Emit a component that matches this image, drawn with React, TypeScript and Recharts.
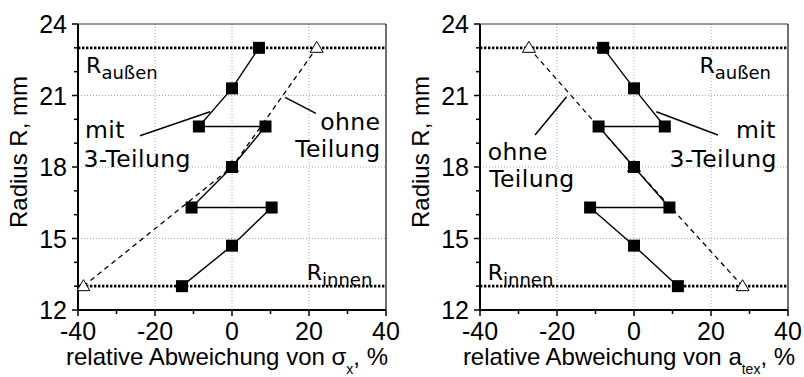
import React from 'react';
import { ScatterChart, Scatter, XAxis, YAxis, ReferenceLine, ReferenceDot } from 'recharts';

const xTicks = [-40, -30, -20, -10, 0, 10, 20, 30, 40];
const yTicks = [12, 13, 14, 15, 16, 17, 18, 19, 20, 21, 22, 23, 24];
const gridX = [-20, 0, 20];
const gridY = [15, 18, 21];
const boundaryRadii = [13, 23];

// radius of each measuring point, mm
const mitRadius = [23, 21.3, 19.7, 19.7, 18, 16.3, 16.3, 14.7, 13];
const ohneRadius = [13, 18, 23];

// left panel: deviation of sigma_x, %
const sigmaMit = [7, 0, -8.6, 8.7, 0, -10.5, 10.3, 0, -13];
const sigmaOhne = [-38.6, 0, 22];

// right panel: deviation of a_tex, %
const atexMit = [-8, 0, 8, -9.2, 0, 9.2, -11.4, 0, 11.4];
const atexOhne = [28.2, 0, -27.3];

const SANS = '"Liberation Sans", Arial, sans-serif';
const NOTE = '"DejaVu Sans", Verdana, sans-serif';

const toPoints = (xs: number[], ys: number[]) => xs.map((x, i) => ({ x, y: ys[i] }));

const Square = (p: any) => (
    <rect x={p.cx - 6} y={p.cy - 6} width={12} height={12} fill="#000" />
);

const Triangle = (p: any) => (
    <path
        d={`M${p.cx},${p.cy - 6.5} L${p.cx + 6.5},${p.cy + 4.5} L${p.cx - 6.5},${p.cy + 4.5} Z`}
        fill="#fff"
        stroke="#000"
        strokeWidth={1}
    />
);

const renderXTick = (p: any) => {
    const v = p.payload.value;
    const major = v % 20 === 0;
    return (
        <g>
            <line x1={p.x} x2={p.x} y1={p.y} y2={p.y + (major ? 6 : 4)} stroke="#000" strokeWidth={1.5} />
            {major && (
                <text x={p.x} y={p.y + 30} textAnchor="middle" fontFamily={SANS} fontSize={25} fill="#000">
                    {v}
                </text>
            )}
        </g>
    );
};

const renderYTick = (p: any) => {
    const v = p.payload.value;
    const major = v % 3 === 0;
    return (
        <g>
            <line x1={p.x - (major ? 6 : 4)} x2={p.x} y1={p.y} y2={p.y} stroke="#000" strokeWidth={1.5} />
            {major && (
                <text x={p.x - 11} y={p.y} dy="0.36em" textAnchor="end" fontFamily={SANS} fontSize={25} fill="#000">
                    {v}
                </text>
            )}
        </g>
    );
};

const yLabel = (props: any) => {
    const vb = props.viewBox ?? { x: 0, y: 24, width: 78, height: 286 };
    const cx = vb.x + 27;
    const cy = vb.y + vb.height / 2 - 15;
    return (
        <text x={cx} y={cy} transform={`rotate(-90 ${cx} ${cy})`} textAnchor="middle" fontFamily={SANS} fontSize={24} fill="#000">
            Radius R, mm
        </text>
    );
};

const makeXLabel = (main: string, sub: string) => (props: any) => {
    const vb = props.viewBox ?? { x: 78, y: 310, width: 308, height: 67 };
    return (
        <text x={vb.x + vb.width / 2 - 5} y={vb.y + 55} textAnchor="middle" fontFamily={SANS} fontSize={24} fill="#000">
            <tspan>{main}</tspan>
            <tspan fontSize={14} dy={9}>{sub}</tspan>
            <tspan dy={-9}>, %</tspan>
        </text>
    );
};

interface Note {
    x: number;
    y: number;
    text: string;
    sub?: string;
}

interface Pointer {
    from: [number, number];
    to: [number, number];
}

const noteShape = (n: Note) => (p: any) =>
    n.sub ? (
        <text x={p.cx} y={p.cy} fontFamily={NOTE} fontSize={22} fill="#000">
            {n.text}
            <tspan fontSize={18} dy={6}>{n.sub}</tspan>
        </text>
    ) : (
        <text x={p.cx} y={p.cy} fontFamily={NOTE} fontSize={23.5} letterSpacing={0.4} fill="#000">
            {n.text}
        </text>
    );

interface PanelProps {
    mit: { x: number; y: number }[];
    ohne: { x: number; y: number }[];
    labelMain: string;
    labelSub: string;
    notes: Note[];
    pointers: Pointer[];
}

const Panel: React.FC<PanelProps> = ({ mit, ohne, labelMain, labelSub, notes, pointers }) => {
    return (
        <ScatterChart width={402} height={377} margin={{ top: 24, right: 16, bottom: 0, left: 0 }}>
            <XAxis
                type="number"
                dataKey="x"
                domain={[-40, 40]}
                ticks={xTicks}
                interval={0}
                allowDataOverflow
                height={67}
                tickSize={0}
                tickMargin={0}
                tickLine={false}
                tick={renderXTick}
                axisLine={{ stroke: '#000', strokeWidth: 2 }}
                label={makeXLabel(labelMain, labelSub)}
            />
            <YAxis
                type="number"
                dataKey="y"
                domain={[12, 24]}
                ticks={yTicks}
                interval={0}
                allowDataOverflow
                width={78}
                tickSize={0}
                tickMargin={0}
                tickLine={false}
                tick={renderYTick}
                axisLine={{ stroke: '#000', strokeWidth: 2 }}
                label={yLabel}
            />
            {gridX.map(v => (
                <ReferenceLine key={`gx${v}`} x={v} stroke="#aaa" strokeDasharray="1 2" />
            ))}
            {gridY.map(v => (
                <ReferenceLine key={`gy${v}`} y={v} stroke="#aaa" strokeDasharray="1 2" />
            ))}
            <ReferenceLine y={24} stroke="#333" strokeWidth={1} />
            <ReferenceLine x={40} stroke="#222" strokeWidth={1.3} />
            {boundaryRadii.map(v => (
                <ReferenceLine key={`r${v}`} y={v} stroke="#000" strokeWidth={2.6} strokeDasharray="2.4 1.6" />
            ))}
            {pointers.map((p, i) => (
                <ReferenceLine
                    key={`p${i}`}
                    segment={[{ x: p.from[0], y: p.from[1] }, { x: p.to[0], y: p.to[1] }]}
                    stroke="#000"
                    strokeWidth={1.5}
                />
            ))}
            {notes.map((n, i) => (
                <ReferenceDot key={`n${i}`} x={n.x} y={n.y} r={0} ifOverflow="visible" shape={noteShape(n)} />
            ))}
            <Scatter
                data={ohne}
                fill="#000"
                line={{ stroke: '#000', strokeWidth: 1.3, strokeDasharray: '5 4' }}
                shape={Triangle}
                isAnimationActive={false}
            />
            <Scatter
                data={mit}
                fill="#000"
                line={{ stroke: '#000', strokeWidth: 1.4 }}
                shape={Square}
                isAnimationActive={false}
            />
        </ScatterChart>
    );
};

const leftNotes: Note[] = [
    { x: -37.9, y: 21.93, text: 'R', sub: 'außen' },
    { x: -38.2, y: 19.22, text: 'mit' },
    { x: -38.6, y: 18.01, text: '3-Teilung' },
    { x: 22.9, y: 19.55, text: 'ohne' },
    { x: 16.4, y: 18.43, text: 'Teilung' },
    { x: 19.4, y: 13.26, text: 'R', sub: 'innen' }
];

const leftPointers: Pointer[] = [
    { from: [-23.9, 19.31], to: [-5.7, 20.32] },
    { from: [13.8, 20.92], to: [21.8, 20.25] }
];

const rightNotes: Note[] = [
    { x: 17.0, y: 21.93, text: 'R', sub: 'außen' },
    { x: 26.5, y: 19.22, text: 'mit' },
    { x: 9.2, y: 18.01, text: '3-Teilung' },
    { x: -38, y: 18.29, text: 'ohne' },
    { x: -37.6, y: 17.17, text: 'Teilung' },
    { x: -38, y: 13.26, text: 'R', sub: 'innen' }
];

const rightPointers: Pointer[] = [
    { from: [-25.7, 19.34], to: [-17.5, 20.95] },
    { from: [5.8, 20.32], to: [21.8, 19.34] }
];

export default function App() {
    return (
        <div style={{ position: 'absolute', left: 0, top: 0, width: 804, height: 377, display: 'flex', background: '#fff' }}>
            <Panel
                mit={toPoints(sigmaMit, mitRadius)}
                ohne={toPoints(sigmaOhne, ohneRadius)}
                labelMain="relative Abweichung von σ"
                labelSub="x"
                notes={leftNotes}
                pointers={leftPointers}
            />
            <Panel
                mit={toPoints(atexMit, mitRadius)}
                ohne={toPoints(atexOhne, ohneRadius)}
                labelMain="relative Abweichung von a"
                labelSub="tex"
                notes={rightNotes}
                pointers={rightPointers}
            />
        </div>
    );
}
